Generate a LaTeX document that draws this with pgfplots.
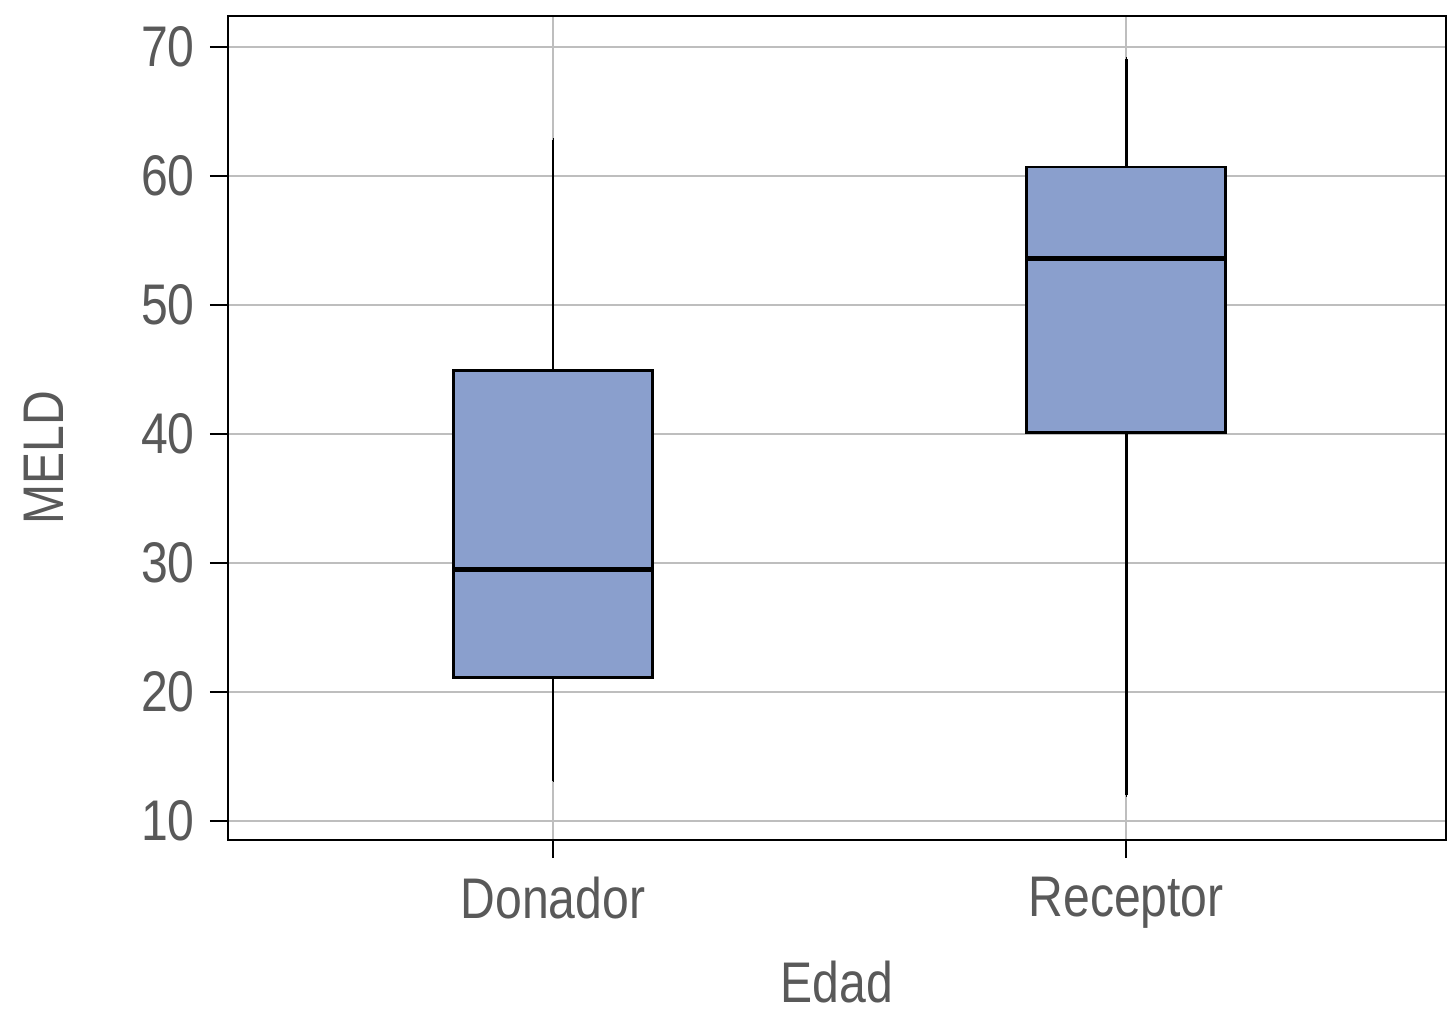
\documentclass[border=0pt]{standalone}
\usepackage{fontspec}
\setmainfont[FakeStretch=0.84]{Liberation Sans}
\usepackage{pgfplots}
\pgfplotsset{compat=1.18}
\usepgfplotslibrary{statistics}
\definecolor{boxfill}{HTML}{8A9FCD}
\definecolor{txt}{HTML}{595959}
\definecolor{gridc}{HTML}{BEBEBE}
\begin{document}
\begin{tikzpicture}
\begin{axis}[
  scale only axis,
  width=12.18cm, height=8.24cm,
  xmin=0.433, xmax=2.558,
  ymin=8.53, ymax=72.4,
  xtick={1,2}, xticklabels={Donador,Receptor},
  ytick={10,20,30,40,50,60,70},
  /pgf/number format/assume math mode=true,
  tick label style={font=\fontsize{16.3}{18}\selectfont, text=txt},
  label style={font=\fontsize{16.3}{18}\selectfont, text=txt},
  xlabel={Edad}, ylabel={MELD},
  xmajorgrids, ymajorgrids,
  grid style={gridc, line width=0.6pt},
  axis line style={black, line width=0.7pt},
  tick style={black, line width=0.7pt},
  tick align=outside,
  major tick length=0.18cm,
  xtick pos=bottom, ytick pos=left,
  yticklabel style={xshift=-0.03cm},
  xticklabel style={yshift=-0.07cm},
  xlabel style={yshift=-0.08cm},
  ylabel style={yshift=0.53cm, xshift=-0.3cm},
  boxplot/draw direction=y,
]
\addplot[boxplot prepared={
    median=29.5, upper quartile=44.9, lower quartile=21.1,
    upper whisker=62.8, lower whisker=13.1,
    draw position=1, box extend=0.347, whisker extend=0.0001},
  draw=black, fill=boxfill, line width=0.8pt,
  boxplot/every median/.style={line width=1.3pt}]
  table[row sep=\\, y index=0] {data\\};
\addplot[boxplot prepared={
    median=53.6, upper quartile=60.7, lower quartile=40.1,
    upper whisker=69.1, lower whisker=12.0,
    draw position=2, box extend=0.347, whisker extend=0.0001},
  draw=black, fill=boxfill, line width=0.8pt,
  boxplot/every median/.style={line width=1.3pt}]
  table[row sep=\\, y index=0] {data\\};
\end{axis}
\pgfresetboundingbox
\path (current axis.south west) ++(-2.28cm,-1.84cm) rectangle ++(14.48cm,10.24cm);
\end{tikzpicture}
\end{document}
